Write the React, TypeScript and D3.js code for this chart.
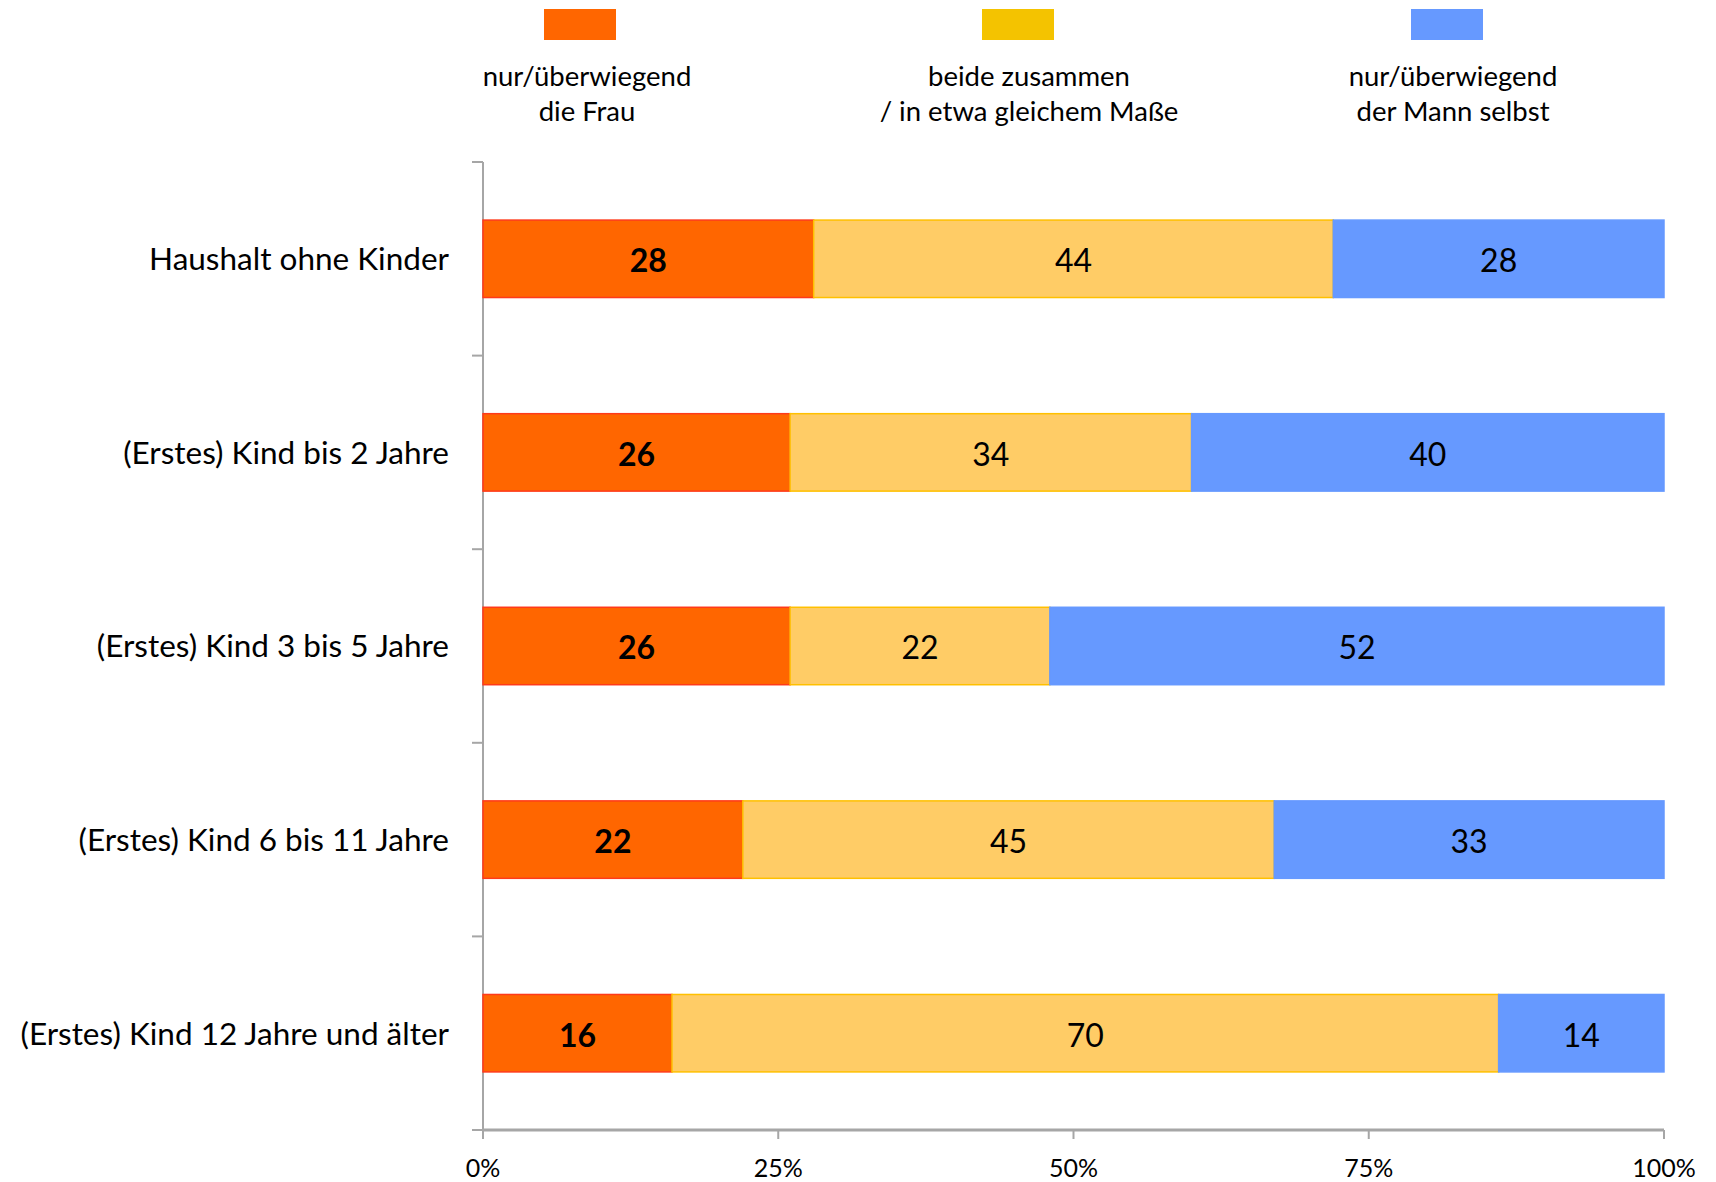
import React from "react";
import * as d3 from "d3";

const categories = [
  "Haushalt ohne Kinder",
  "(Erstes) Kind bis 2 Jahre",
  "(Erstes) Kind 3 bis 5 Jahre",
  "(Erstes) Kind 6 bis 11 Jahre",
  "(Erstes) Kind 12 Jahre und älter",
];
const seriesNames = [
  ["nur/überwiegend", "die Frau"],
  ["beide zusammen", "/ in etwa gleichem Maße"],
  ["nur/überwiegend", "der Mann selbst"],
];
const frau = [28, 26, 26, 22, 16];
const beide = [44, 34, 22, 45, 70];
const mann = [28, 40, 52, 33, 14];
const xTicks = [0, 25, 50, 75, 100];

const fills = ["#FF6600", "#FFCC66", "#6699FF"];
const strokes = ["#FF3A1A", "#FFC000", "#6699FF"];
const legendFills = ["#FF6600", "#F4C300", "#6699FF"];

const W = 1716;
const H = 1182;
const FONT = "Lato, 'Open Sans', sans-serif";

export default function App() {
  const left = 483, right = 1664, top = 162, bottom = 1130;
  const x = d3.scaleLinear().domain([0, 100]).range([left, right]);
  const y = d3.scaleBand<string>().domain(categories).range([top, bottom]).paddingInner(0.6).paddingOuter(0.3);
  const yEdges = d3.range(categories.length + 1).map((i) => top + (i * (bottom - top)) / categories.length);
  const series = [frau, beide, mann];
  const rows = categories.map((c, i) => {
    let acc = 0;
    return series.map((s, k) => {
      const x0 = acc;
      acc += s[i];
      return { k, x0, x1: acc, v: s[i], c };
    });
  });
  const legendCenters = [580, 1018, 1447];
  const legendTextCenters = [587, 1029, 1453];

  return (
    <svg width={W} height={H} style={{ position: "absolute", left: 0, top: 0, background: "#fff" }} fontFamily={FONT}>
      {/* legend */}
      {seriesNames.map((lines, k) => (
        <g key={k}>
          <rect x={legendCenters[k] - 36} y={9} width={72} height={31} fill={legendFills[k]} />
          {lines.map((t, j) => (
            <text key={j} x={legendTextCenters[k]} y={86 + j * 35} textAnchor="middle" fontSize={27.5} fill="#000">
              {t}
            </text>
          ))}
        </g>
      ))}
      {/* y axis */}
      <line x1={left} x2={left} y1={top} y2={bottom} stroke="#A6A6A6" strokeWidth={2} />
      {yEdges.map((e, i) => (
        <line key={i} x1={left - 11} x2={left} y1={e} y2={e} stroke="#A6A6A6" strokeWidth={2} />
      ))}
      {/* x axis */}
      <line x1={left} x2={right} y1={bottom} y2={bottom} stroke="#A6A6A6" strokeWidth={3} />
      {xTicks.map((t) => (
        <g key={t}>
          <line x1={x(t)} x2={x(t)} y1={bottom} y2={bottom + 9} stroke="#A6A6A6" strokeWidth={2} />
          <text x={x(t)} y={1177} textAnchor="middle" fontSize={25} fill="#000">
            {t}%
          </text>
        </g>
      ))}
      {/* bars */}
      {rows.map((segs, i) => (
        <g key={i}>
          {segs.map((s) => (
            <rect
              key={s.k}
              x={x(s.x0)}
              y={y(s.c)!}
              width={x(s.x1) - x(s.x0)}
              height={y.bandwidth()}
              fill={fills[s.k]}
              stroke={strokes[s.k]}
              strokeWidth={1.5}
            />
          ))}
          {segs.map((s) => (
            <text
              key={"t" + s.k}
              x={(x(s.x0) + x(s.x1)) / 2}
              y={y(s.c)! + y.bandwidth() / 2}
              dy="0.42em"
              textAnchor="middle"
              fontSize={32}
              fontWeight={s.k === 0 ? 700 : 400}
              fill="#000"
            >
              {s.v}
            </text>
          ))}
          <text x={449} y={y(segs[0].c)! + y.bandwidth() / 2} dy="0.36em" textAnchor="end" fontSize={31.5} fill="#000">
            {categories[i]}
          </text>
        </g>
      ))}
    </svg>
  );
}
